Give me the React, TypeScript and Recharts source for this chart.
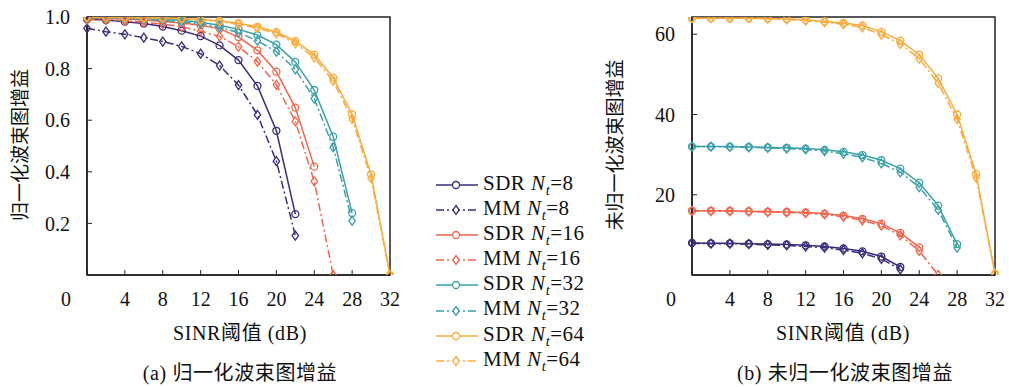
import React from "react";
import { LineChart, Line, XAxis, YAxis, ReferenceArea } from "recharts";

// SINR threshold (dB)
const snr = [0, 2, 4, 6, 8, 10, 12, 14, 16, 18, 20, 22, 24, 26, 28, 30, 32];
const xTicks = [0, 4, 8, 12, 16, 20, 24, 28, 32];

// (a) normalized beampattern gain
const normSdr8 = [0.991, 0.988, 0.982, 0.975, 0.963, 0.947, 0.926, 0.89, 0.833, 0.733, 0.559, 0.236];
const normMm8 = [0.956, 0.943, 0.933, 0.92, 0.905, 0.886, 0.858, 0.812, 0.736, 0.621, 0.441, 0.153];
const normSdr16 = [0.996, 0.994, 0.992, 0.988, 0.983, 0.977, 0.968, 0.955, 0.922, 0.871, 0.788, 0.649, 0.42];
const normMm16 = [0.99, 0.988, 0.985, 0.98, 0.972, 0.962, 0.945, 0.925, 0.885, 0.827, 0.737, 0.595, 0.363, 0.0];
const normSdr32 = [0.998, 0.997, 0.996, 0.994, 0.991, 0.987, 0.98, 0.968, 0.952, 0.93, 0.893, 0.826, 0.717, 0.536, 0.24];
const normMm32 = [0.997, 0.996, 0.994, 0.991, 0.987, 0.982, 0.974, 0.96, 0.94, 0.908, 0.866, 0.797, 0.684, 0.495, 0.21];
const normSdr64 = [1.0, 0.999, 0.998, 0.997, 0.996, 0.994, 0.99, 0.985, 0.976, 0.962, 0.942, 0.906, 0.854, 0.765, 0.622, 0.39, 0.0];
const normMm64 = [0.999, 0.998, 0.997, 0.996, 0.995, 0.993, 0.988, 0.982, 0.972, 0.957, 0.936, 0.898, 0.843, 0.752, 0.605, 0.375, 0.0];

// (b) unnormalized beampattern gain
const rawSdr8 = [8.0, 7.9, 7.9, 7.8, 7.7, 7.6, 7.4, 7.1, 6.6, 5.9, 4.6, 2.0];
const rawMm8 = [7.9, 7.8, 7.8, 7.7, 7.5, 7.4, 7.1, 6.8, 6.2, 5.4, 4.0, 1.4];
const rawSdr16 = [16, 16, 16, 15.9, 15.8, 15.7, 15.6, 15.3, 14.8, 14.0, 12.8, 10.5, 6.9];
const rawMm16 = [16, 15.9, 15.9, 15.8, 15.7, 15.6, 15.4, 15.1, 14.5, 13.6, 12.3, 9.9, 6.0, 0];
const rawSdr32 = [32, 32, 32, 31.9, 31.8, 31.7, 31.5, 31.2, 30.7, 29.9, 28.6, 26.5, 23.0, 17.3, 7.7];
const rawMm32 = [32, 32, 31.9, 31.8, 31.7, 31.5, 31.3, 30.9, 30.2, 29.3, 27.8, 25.6, 21.9, 16.2, 6.8];
const rawSdr64 = [64, 64, 64, 64, 63.9, 63.8, 63.6, 63.2, 62.8, 62.2, 60.6, 58.4, 54.9, 49.0, 40.0, 25.2, 0.3];
const rawMm64 = [64, 64, 64, 64, 63.9, 63.7, 63.4, 63.0, 62.5, 61.7, 59.9, 57.6, 53.9, 47.8, 38.8, 24.3, 0.3];

const PURPLE = "#3b2b78";
const RED = "#f0654c";
const TEAL = "#39a0a8";
const ORANGE = "#fbaa3a";
const FONT = "'Liberation Serif', 'Noto Sans CJK SC', serif";

const series = [
  { key: "sdr8", label: "SDR", nt: 8, color: PURPLE, mm: false },
  { key: "mm8", label: "MM", nt: 8, color: PURPLE, mm: true },
  { key: "sdr16", label: "SDR", nt: 16, color: RED, mm: false },
  { key: "mm16", label: "MM", nt: 16, color: RED, mm: true },
  { key: "sdr32", label: "SDR", nt: 32, color: TEAL, mm: false },
  { key: "mm32", label: "MM", nt: 32, color: TEAL, mm: true },
  { key: "sdr64", label: "SDR", nt: 64, color: ORANGE, mm: false },
  { key: "mm64", label: "MM", nt: 64, color: ORANGE, mm: true },
];

const buildRows = (vals: Record<string, number[]>) =>
  snr.map((x, i) => {
    const row: any = { x };
    Object.keys(vals).forEach((k) => {
      if (i < vals[k].length) row[k] = vals[k][i];
    });
    return row;
  });

const normRows = buildRows({
  sdr8: normSdr8, mm8: normMm8, sdr16: normSdr16, mm16: normMm16,
  sdr32: normSdr32, mm32: normMm32, sdr64: normSdr64, mm64: normMm64,
});
const rawRows = buildRows({
  sdr8: rawSdr8, mm8: rawMm8, sdr16: rawSdr16, mm16: rawMm16,
  sdr32: rawSdr32, mm32: rawMm32, sdr64: rawSdr64, mm64: rawMm64,
});

const diamond = (color: string) => (p: any) => {
  const { cx, cy, index } = p;
  if (cx == null || cy == null) return <g key={index} />;
  return (
    <path
      key={index}
      d={`M${cx},${cy - 4.5}L${cx + 3.2},${cy}L${cx},${cy + 4.5}L${cx - 3.2},${cy}Z`}
      fill="none"
      stroke={color}
      strokeWidth={1.3}
    />
  );
};

const XTick = (p: any) => {
  const { x, y, payload } = p;
  return (
    <text
      x={payload.value === 0 ? x - 21 : x}
      y={y}
      dy="0.71em"
      textAnchor="middle"
      fontSize={20}
      fontFamily={FONT}
      fill="#111"
    >
      {payload.value}
    </text>
  );
};

const renderLines = () =>
  series.map((s) => (
    <Line
      key={s.key}
      dataKey={s.key}
      stroke={s.color}
      strokeWidth={1.5}
      strokeDasharray={s.mm ? "8 3 2 3" : undefined}
      dot={s.mm ? diamond(s.color) : { r: 3.5, fill: "none", stroke: s.color, strokeWidth: 1.3 }}
      isAnimationActive={false}
    />
  ));

const Panel = ({ rows, yMax, yTicks, yWidth, fmt }: any) => (
  <LineChart width={yWidth + 313} height={320} data={rows} margin={{ top: 17, right: 10, left: 0, bottom: 0 }}>
    <ReferenceArea x1={0} x2={32} y1={0} y2={yMax} fill="none" stroke="#222" strokeWidth={1.5} />
    <XAxis
      dataKey="x"
      type="number"
      domain={[0, 32]}
      ticks={xTicks}
      height={45}
      tickSize={-5}
      tickMargin={22}
      tick={<XTick />}
      axisLine={{ stroke: "#222", strokeWidth: 1.5 }}
      tickLine={{ stroke: "#222" }}
    />
    <YAxis
      type="number"
      domain={[0, yMax]}
      ticks={yTicks}
      width={yWidth}
      tickSize={-5}
      tickMargin={22}
      tickFormatter={fmt}
      tick={{ fontSize: 20, fontFamily: FONT, fill: "#111" }}
      axisLine={{ stroke: "#222", strokeWidth: 1.5 }}
      tickLine={{ stroke: "#222" }}
      allowDataOverflow
    />
    {renderLines()}
  </LineChart>
);

const text = (style: React.CSSProperties, content: React.ReactNode) => (
  <div
    style={{
      position: "absolute",
      whiteSpace: "nowrap",
      fontFamily: FONT,
      fontSize: 20,
      letterSpacing: 0.6,
      color: "#111",
      transform: "translate(-50%, -50%)",
      ...style,
    }}
  >
    {content}
  </div>
);

const LegendBox = () => (
  <div style={{ position: "absolute", left: 434, top: 172, fontFamily: FONT, fontSize: 21, letterSpacing: 0.5, color: "#111" }}>
    {series.map((s) => (
      <div key={s.key} style={{ display: "flex", alignItems: "center", height: 25.2 }}>
        <svg width={46} height={12} style={{ marginRight: 3 }}>
          <line
            x1={2}
            x2={44}
            y1={6}
            y2={6}
            stroke={s.color}
            strokeWidth={1.5}
            strokeDasharray={s.mm ? "8 3 2 3" : undefined}
          />
          {s.mm ? (
            <path d="M22,1.5L25.2,6L22,10.5L18.8,6Z" fill="#fff" stroke={s.color} strokeWidth={1.3} />
          ) : (
            <circle cx={22} cy={6} r={3.5} fill="#fff" stroke={s.color} strokeWidth={1.3} />
          )}
        </svg>
        <span>
          {s.label}&nbsp;<i>N</i>
          <sub style={{ fontSize: "0.7em", fontStyle: "italic" }}>t</sub>={s.nt}
        </span>
      </div>
    ))}
  </div>
);

export default function App() {
  return (
    <div style={{ position: "absolute", left: 0, top: 0, width: 1009, height: 387, background: "#fff" }}>
      <div style={{ position: "absolute", left: 0, top: 0 }}>
        <Panel rows={normRows} yMax={1} yTicks={[0.2, 0.4, 0.6, 0.8, 1.0]} yWidth={87} fmt={(v: number) => v.toFixed(1)} />
      </div>
      <div style={{ position: "absolute", left: 600, top: 0 }}>
        <Panel rows={rawRows} yMax={64.3} yTicks={[20, 40, 60]} yWidth={92} fmt={(v: number) => String(v)} />
      </div>
      {text({ left: 18, top: 145, fontSize: 19, letterSpacing: 0, transform: "translate(-50%, -50%) rotate(-90deg)" }, "归一化波束图增益")}
      {text({ left: 613, top: 145, fontSize: 19, letterSpacing: 0, transform: "translate(-50%, -50%) rotate(-90deg)" }, "未归一化波束图增益")}
      {text({ left: 240, top: 331 }, "SINR阈值 (dB)")}
      {text({ left: 843, top: 331 }, "SINR阈值 (dB)")}
      {text({ left: 240, top: 371 }, "(a) 归一化波束图增益")}
      {text({ left: 845, top: 371 }, "(b) 未归一化波束图增益")}
      <LegendBox />
    </div>
  );
}
